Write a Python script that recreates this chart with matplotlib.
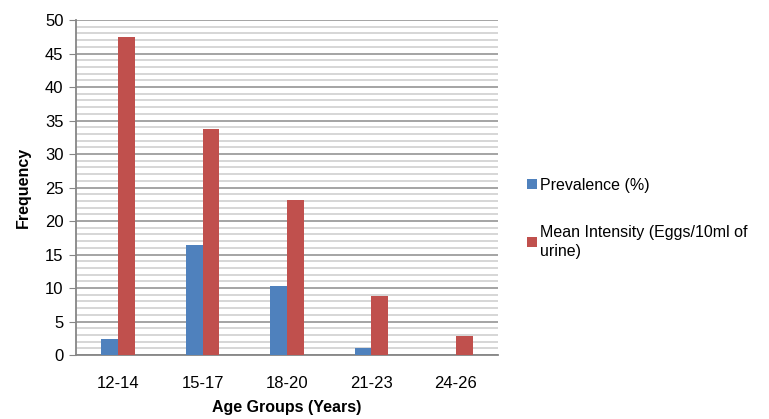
import numpy as np
import matplotlib.pyplot as plt

plt.rcParams['font.family'] = ['Liberation Sans', 'DejaVu Sans']

groups = ['12-14', '15-17', '18-20', '21-23', '24-26']
prevalence = [2.4, 16.4, 10.3, 1.0, 0.0]
intensity = [47.4, 33.7, 23.2, 8.8, 2.9]

fig = plt.figure(figsize=(7.69, 4.19), dpi=100)
ax = fig.add_axes([0.0988, 0.1527, 0.5488, 0.7995])

x = np.arange(len(groups))
w = 0.2
b1 = ax.bar(x - w / 2, prevalence, w, color='#4F81BD', label='Prevalence (%)', zorder=3)
b2 = ax.bar(x + w / 2, intensity, w, color='#C0504D',
            label='Mean Intensity (Eggs/10ml of\nurine)', zorder=3)

ax.set_xlim(-0.5, len(groups) - 0.5)
ax.set_ylim(0, 50)
ax.set_yticks(np.arange(0, 51, 5))
ax.set_yticks(np.arange(0, 51, 1), minor=True)
ax.set_xticks(x)
ax.set_xticklabels(groups)
ax.grid(axis='y', which='major', color='#8c8c8c', linewidth=1.1, zorder=0)
ax.grid(axis='y', which='minor', color='#cccccc', linewidth=1.1, zorder=0)

for s in ['top', 'right']:
    ax.spines[s].set_visible(False)
for s in ['left', 'bottom']:
    ax.spines[s].set_color('#868686')
    ax.spines[s].set_linewidth(1.3)
ax.tick_params(axis='y', which='major', length=5, color='#868686', labelsize=12, pad=4)
ax.tick_params(axis='y', which='minor', length=0)
ax.tick_params(axis='x', length=0, labelsize=12, pad=15)

ax.set_ylabel('Frequency', fontsize=11.5, fontweight='bold', labelpad=10)
ax.set_xlabel('Age Groups (Years)', fontsize=11.5, fontweight='bold')
ax.xaxis.set_label_coords(0.5, -0.135)

leg = fig.legend(handles=[b1, b2], loc='upper left', bbox_to_anchor=(0.667, 0.61),
                 frameon=False, fontsize=11.5, handlelength=0.6, handleheight=0.6,
                 handletextpad=0.2, labelspacing=2.0)
for t in leg.get_texts():
    t.set_linespacing(1.35)

fig.savefig('out.png', dpi=100)
